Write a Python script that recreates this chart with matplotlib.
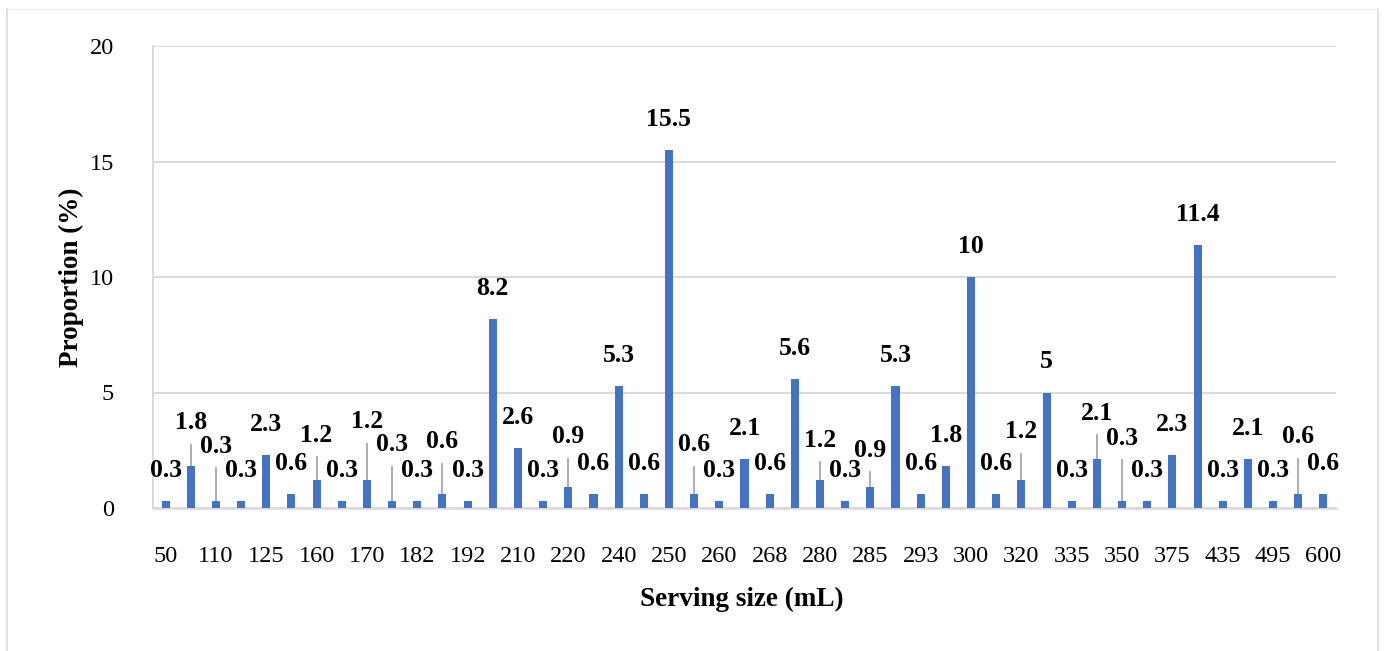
import matplotlib
matplotlib.use("Agg")
import matplotlib.pyplot as plt
import numpy as np
from matplotlib.lines import Line2D

# every other serving size is labelled on the axis
tick_labels = ["50", "110", "125", "160", "170", "182", "192", "210", "220", "240", "250", "260",
               "268", "280", "285", "293", "300", "320", "335", "350", "375", "435", "495", "600"]
values = [0.3, 1.8, 0.3, 0.3, 2.3, 0.6, 1.2, 0.3, 1.2, 0.3, 0.3, 0.6, 0.3, 8.2, 2.6, 0.3,
          0.9, 0.6, 5.3, 0.6, 15.5, 0.6, 0.3, 2.1, 0.6, 5.6, 1.2, 0.3, 0.9, 5.3, 0.6, 1.8,
          10, 0.6, 1.2, 5, 0.3, 2.1, 0.3, 0.3, 2.3, 11.4, 0.3, 2.1, 0.3, 0.6, 0.6]

# labels that were dragged up (with a leader line), bar index -> label height
moved = {1: 3.68, 2: 2.68, 6: 3.16, 8: 3.74, 9: 2.73, 11: 2.87, 16: 3.09, 21: 2.73,
         26: 2.94, 28: 2.51, 34: 3.3, 37: 4.1, 38: 3.03, 45: 3.09}

plt.rcParams["font.family"] = ["Liberation Serif", "DejaVu Serif"]
grid_c = "#d9d9d9"

fig = plt.figure(figsize=(13.85, 6.51), dpi=100)
ax = fig.add_axes([153/1385, 1 - 508/651, 1183/1385, 462/651])

x = np.arange(len(values))
ax.bar(x, values, width=0.32, color="#4472C4", zorder=3)

for i, v in enumerate(values):
    txt = format(v, "g")
    if i in moved:
        ly = moved[i]
        ax.plot([i, i], [v, ly - 0.95], color="#a6a6a6", lw=1.3, zorder=2)
        ax.text(i, ly, txt, ha="center", va="center", fontsize=18.5, fontweight="bold", zorder=4)
    else:
        ax.annotate(txt, (i, v), xytext=(0, 22), textcoords="offset points",
                    ha="center", va="center", fontsize=18.5, fontweight="bold", zorder=4)

ax.set_xlim(-0.5, len(values) - 0.5)
ax.set_ylim(0, 20)
ax.set_yticks([0, 5, 10, 15, 20])
ax.set_xticks(x[::2], tick_labels)
ax.tick_params(axis="both", length=0, labelsize=17.5)
ax.tick_params(axis="x", pad=27)
ax.tick_params(axis="y", pad=28)
ax.grid(axis="y", color=grid_c, lw=1.4, zorder=0)
for s in ["top", "right"]:
    ax.spines[s].set_visible(False)
ax.spines["left"].set_color(grid_c)
ax.spines["left"].set_linewidth(1.4)
ax.spines["bottom"].set_color(grid_c)
ax.spines["bottom"].set_linewidth(1.8)

ax.set_xlabel("Serving size (mL)", fontsize=19.5, fontweight="bold")
ax.set_ylabel("Proportion (%)", fontsize=19.5, fontweight="bold")
ax.xaxis.set_label_coords(0.498, -0.17)
ax.yaxis.set_label_coords(-0.058, 0.5)

# chart-area border
fig.add_artist(Line2D([7/1385, 7/1385], [0, 1 - 9/651], color="#e0e0e0", lw=1.5))
fig.add_artist(Line2D([1378/1385, 1378/1385], [0, 1 - 9/651], color="#e0e0e0", lw=1.5))
fig.add_artist(Line2D([7/1385, 1378/1385], [1 - 9/651, 1 - 9/651], color="#f0f0f0", lw=1))

fig.savefig("out.png", dpi=100)
